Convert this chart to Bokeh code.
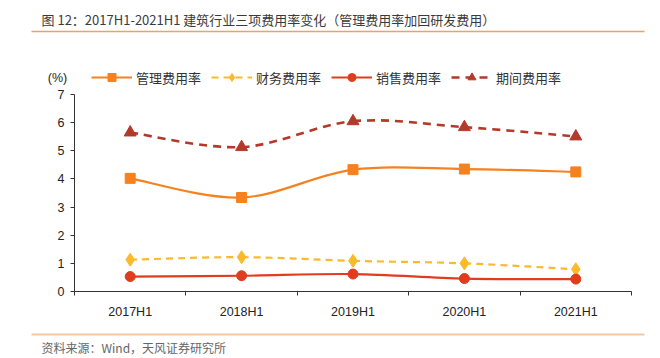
from bokeh.plotting import figure
from bokeh.layouts import column
from bokeh.models import Range1d, FixedTicker, Legend, LegendItem
from bokeh.core.properties import value
from bokeh.embed import file_html
from bokeh.resources import INLINE

# ---- data ----
categories = ["2017H1", "2018H1", "2019H1", "2020H1", "2021H1"]
mgmt = [4.02, 3.34, 4.33, 4.35, 4.25]      # 管理费用率
fin = [1.13, 1.22, 1.09, 1.00, 0.79]       # 财务费用率
sales = [0.53, 0.56, 0.62, 0.46, 0.44]     # 销售费用率
period = [5.65, 5.13, 6.05, 5.84, 5.51]    # 期间费用率
series_names = ["管理费用率", "财务费用率", "销售费用率", "期间费用率"]
y_ticks = [0, 1, 2, 3, 4, 5, 6, 7]

title_text = "图 12：2017H1-2021H1 建筑行业三项费用率变化（管理费用率加回研发费用）"
source_text = "资料来源：Wind，天风证券研究所"
unit_text = "(%)"

W = 660
CJK = "Noto Sans CJK SC"
LAT = "Liberation Sans"
NAN = float("nan")

styles = [
    ("#F5821F", "solid", 2.2, "square", 10),
    ("#FBBA2A", "7 5", 2.2, "diamond", 13),
    ("#E03C1E", "solid", 2.2, "circle", 10),
    ("#B3392B", "8 6", 2.6, "triangle", 12),
]
series_vals = [mgmt, fin, sales, period]


def plain_fig(top, bottom):
    f = figure(width=W, height=bottom - top, output_backend="svg", toolbar_location=None,
               x_range=Range1d(0, W), y_range=Range1d(bottom, top),
               x_axis_location=None, y_axis_location=None, min_border=0,
               frame_align=False)
    f.outline_line_color = None
    f.xgrid.visible = False
    f.ygrid.visible = False
    return f


# ---------- header: title, rule, unit and legend ----------
HT = 88
head = plain_fig(0, HT)
head.text(x=[41], y=[19], text=[title_text], text_font=value(CJK), text_font_size="13px",
          text_color="#3a3a3a", text_baseline="middle", text_align="left")
head.segment(x0=[31], y0=[31], x1=[644], y1=[31], line_color="#F0A060", line_width=1.5)
head.text(x=[57], y=[77], text=[unit_text], text_font=value(LAT), text_font_size="12.5px",
          text_color="#222222", text_baseline="middle", text_align="center")

items = []
for (col, dash, lw, mk, sz), name in zip(styles, series_names):
    lr = head.line(x=[NAN], y=[NAN], line_color=col, line_width=lw, line_dash=dash)
    sr = head.scatter(x=[NAN], y=[NAN], marker=mk, fill_color=col, line_color=col)
    items.append(LegendItem(label=name, renderers=[lr, sr]))

legend = Legend(items=items, orientation="horizontal", location=(91, 1),
                glyph_width=41, glyph_height=20, label_height=20, label_standoff=4,
                spacing=10, padding=0, margin=0, border_line_color=None,
                background_fill_alpha=0, label_text_font=CJK,
                label_text_font_size="13px", label_text_color="#333333")
head.add_layout(legend, "center")

# ---------- main chart ----------
MB = 322
p = figure(width=W, height=MB - HT, output_backend="svg", toolbar_location=None,
           x_range=Range1d(0, len(categories)), y_range=Range1d(0, 7),
           min_border_left=74, min_border_right=29, min_border_top=6, min_border_bottom=31,
           frame_align=False)
p.outline_line_color = None
p.xgrid.visible = False
p.ygrid.visible = False

xs = [i + 0.5 for i in range(len(categories))]

p.xaxis.ticker = FixedTicker(ticks=xs, minor_ticks=list(range(len(categories) + 1)))
p.xaxis.major_label_overrides = {x: c for x, c in zip(xs, categories)}
p.xaxis.major_tick_line_color = None
p.xaxis.minor_tick_out = 4
p.xaxis.minor_tick_in = 0
p.xaxis.minor_tick_line_color = "#333333"
p.xaxis.axis_line_color = "#333333"
p.xaxis.major_label_standoff = 7
p.xaxis.major_label_text_font = LAT
p.xaxis.major_label_text_font_size = "12.5px"
p.xaxis.major_label_text_color = "#222222"

p.yaxis.ticker = FixedTicker(ticks=y_ticks)
p.yaxis.minor_tick_line_color = None
p.yaxis.major_tick_out = 4
p.yaxis.major_tick_in = 0
p.yaxis.major_tick_line_color = "#333333"
p.yaxis.axis_line_color = "#333333"
p.yaxis.major_label_standoff = 6
p.yaxis.major_label_text_font = LAT
p.yaxis.major_label_text_font_size = "12.5px"
p.yaxis.major_label_text_color = "#222222"


def bez(xv, yv, k=1.0 / 6):
    n = len(xv)
    out = dict(x0=[], y0=[], x1=[], y1=[], cx0=[], cy0=[], cx1=[], cy1=[])
    for i in range(n - 1):
        a = max(i - 1, 0)
        b = min(i + 2, n - 1)
        out["x0"].append(xv[i]); out["y0"].append(yv[i])
        out["x1"].append(xv[i + 1]); out["y1"].append(yv[i + 1])
        out["cx0"].append(xv[i] + (xv[i + 1] - xv[a]) * k)
        out["cy0"].append(yv[i] + (yv[i + 1] - yv[a]) * k)
        out["cx1"].append(xv[i + 1] - (xv[b] - xv[i]) * k)
        out["cy1"].append(yv[i + 1] - (yv[b] - yv[i]) * k)
    return out


for vals, (col, dash, lw, mk, sz) in zip(series_vals, styles):
    b = bez(xs, vals)
    p.bezier(line_color=col, line_width=lw, line_dash=dash, **b)
    p.scatter(x=xs, y=vals, marker=mk, size=sz, fill_color=col, line_color=col)

# ---------- footer: rule and source ----------
foot = plain_fig(MB, 358)
foot.segment(x0=[31], y0=[334], x1=[644], y1=[334], line_color="#FAC8A0", line_width=2.2)
foot.text(x=[41], y=[346.5], text=[source_text], text_font=value(CJK), text_font_size="12px",
          text_color="#666666", text_baseline="middle", text_align="left")

layout = column(head, p, foot, spacing=0)
open("out.html", "w").write(file_html(layout, INLINE))
